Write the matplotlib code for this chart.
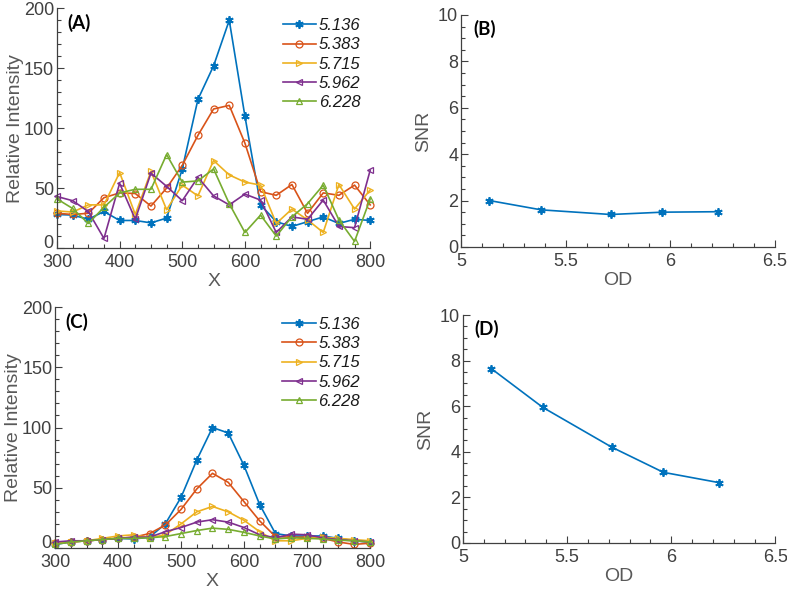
import numpy as np
import matplotlib
matplotlib.use("Agg")
import matplotlib.pyplot as plt
from matplotlib.ticker import MultipleLocator, FuncFormatter

plt.rcParams['font.family'] = ['Liberation Sans', 'DejaVu Sans']

# ---------------- data ----------------
x_pos = [300, 325, 350, 375, 400, 425, 450, 475, 500, 525, 550,
         575, 600, 625, 650, 675, 700, 725, 750, 775, 800]
od_labels = ['5.136', '5.383', '5.715', '5.962', '6.228']
od_values = [5.136, 5.383, 5.715, 5.962, 6.228]

# Panel A (raw)
a_5136 = [28, 27.5, 24, 30.5, 23, 23, 21, 25, 66, 124, 152, 190, 110, 36, 22, 18, 22, 26, 20.5, 24, 23]
a_5383 = [29, 28, 29, 42, 46, 45.5, 35, 50, 69, 94, 116, 119, 87.5, 47, 44, 53, 29, 46, 44, 52.5, 36]
a_5715 = [31, 30, 36, 36, 63, 28, 64, 32, 52.5, 43.5, 73, 61, 55, 52.5, 20.5, 32.5, 23.5, 13, 53, 32.5, 48.5]
a_5962 = [43, 39.5, 30.5, 8, 54, 24, 62.5, 51.5, 39.5, 59, 43.5, 36, 45, 40, 13, 26, 24, 40, 18, 17, 65]
a_6228 = [41, 33, 20.5, 34, 46, 49, 49, 78, 55, 56, 66, 37, 13, 27.5, 10, 26, 37, 52.5, 23.5, 5.5, 41]

# Panel C (processed)
c_5136 = [3, 5, 6, 7, 8, 7.5, 9, 20, 42, 73, 100, 95.5, 68.5, 36, 12, 10, 10, 10, 8, 6, 5]
c_5383 = [4, 5, 6, 7, 8, 9, 12, 19, 32, 49, 62, 54.5, 38.5, 22.5, 9.5, 9, 9, 8, 5, 3, 4]
c_5715 = [4, 5, 6, 8, 10, 11, 8.5, 11, 20, 30, 34.5, 30, 23, 13.5, 6, 6, 8, 9, 8, 7, 6]
c_5962 = [5, 6, 6, 7, 8, 9, 9, 13.5, 17, 21.5, 23.5, 21.5, 17, 11, 8.5, 11.5, 11, 8.5, 7, 6, 5]
c_6228 = [3, 5, 6, 7, 8, 8, 8.5, 9.5, 12, 14.5, 16.5, 15.5, 13, 10, 7.5, 8.5, 8, 7.5, 6.5, 6, 5]

# Panels B and D
snr_b = [2.0, 1.6, 1.4, 1.5, 1.52]
snr_d = [7.65, 5.95, 4.2, 3.1, 2.65]

# ---------------- style ----------------
colors = ['#0072BD', '#D95319', '#EDB120', '#7E2F8E', '#77AC30']
markers = ['ast', 'o', '>', '<', '^']
tick_col = '#404040'
lab_col = '#595959'
ASTERISK = (6, 2, 0)

fig = plt.figure(figsize=(7.87, 5.92), dpi=100)

ax_a = fig.add_axes([0.0724, 0.581, 0.398, 0.405])
ax_c = fig.add_axes([0.0700, 0.0743, 0.400, 0.407])
ax_b = fig.add_axes([0.5858, 0.5828, 0.399, 0.392])
ax_d = fig.add_axes([0.5883, 0.0828, 0.397, 0.385])


def style(ax):
    for s in ['top', 'right']:
        ax.spines[s].set_visible(False)
    for s in ['left', 'bottom']:
        ax.spines[s].set_color(tick_col)
        ax.spines[s].set_linewidth(0.9)
    ax.tick_params(which='both', direction='in', colors=tick_col,
                   labelsize=13, labelcolor=tick_col, width=0.8)
    ax.tick_params(axis='x', which='major', pad=4)
    ax.tick_params(axis='y', which='major', pad=2)
    ax.tick_params(which='major', length=5)
    ax.tick_params(which='minor', length=3)


def spectrum(ax, series, label):
    for ys, c, m, lab in zip(series, colors, markers, od_labels):
        if m == 'ast':
            ax.plot(x_pos, ys, color=c, marker=ASTERISK, markersize=6,
                    markeredgewidth=1.3, linewidth=1.2, label=lab, clip_on=False)
        else:
            ax.plot(x_pos, ys, color=c, marker=m, markersize=5,
                    markerfacecolor='none', markeredgecolor=c,
                    markeredgewidth=0.9, linewidth=1.2, label=lab, clip_on=False)
    ax.set_xlim(300, 800)
    ax.set_ylim(0, 200)
    ax.xaxis.set_major_locator(MultipleLocator(100))
    ax.xaxis.set_minor_locator(MultipleLocator(25))
    ax.yaxis.set_major_locator(MultipleLocator(50))
    ax.yaxis.set_minor_locator(MultipleLocator(10))
    # the "0" y label is drawn separately, nudged up to clear the "300" label
    ax.yaxis.set_major_formatter(FuncFormatter(lambda v, p: '' if v == 0 else f'{v:g}'))
    style(ax)
    ax.annotate('0', xy=(0, 0), xycoords='axes fraction', xytext=(-2.5, 3.5),
                textcoords='offset points', ha='right', va='center',
                fontsize=13, color=tick_col)
    ax.set_xlabel('X', fontsize=14, color=lab_col, labelpad=2)
    ax.set_ylabel('Relative Intensity', fontsize=14, color=lab_col, labelpad=0)
    leg = ax.legend(loc='upper right', bbox_to_anchor=(1.0, 1.0), frameon=False,
                    prop={'style': 'italic', 'size': 12}, handlelength=2.0,
                    handletextpad=0.15, labelspacing=0.25, borderaxespad=0.2)
    for t in leg.get_texts():
        t.set_color('#1a1a1a')
    ax.text(0.032, 0.975, label, transform=ax.transAxes, fontsize=13.5,
            fontweight='bold', family=['Lato', 'DejaVu Sans'], va='top', ha='left')


def snr(ax, vals, label):
    ax.plot(od_values, vals, color=colors[0], marker=ASTERISK, markersize=6,
            markeredgewidth=1.3, linewidth=1.2, clip_on=False)
    ax.set_xlim(5, 6.5)
    ax.set_ylim(0, 10)
    ax.xaxis.set_major_locator(MultipleLocator(0.5))
    ax.xaxis.set_minor_locator(MultipleLocator(0.1))
    ax.yaxis.set_major_locator(MultipleLocator(2))
    ax.yaxis.set_minor_locator(MultipleLocator(0.5))
    ax.set_xticks([5, 5.5, 6, 6.5])
    ax.set_xticklabels(['5', '5.5', '6', '6.5'])
    style(ax)
    ax.set_xlabel('OD', fontsize=14, color=lab_col, labelpad=2)
    ax.set_ylabel('SNR', fontsize=14, color=lab_col, labelpad=4)
    ax.text(0.038, 0.978, label, transform=ax.transAxes, fontsize=13.5,
            fontweight='bold', family=['Lato', 'DejaVu Sans'], va='top', ha='left')


spectrum(ax_a, [a_5136, a_5383, a_5715, a_5962, a_6228], '(A)')
spectrum(ax_c, [c_5136, c_5383, c_5715, c_5962, c_6228], '(C)')
snr(ax_b, snr_b, '(B)')
snr(ax_d, snr_d, '(D)')

fig.savefig('out.png', dpi=100)
